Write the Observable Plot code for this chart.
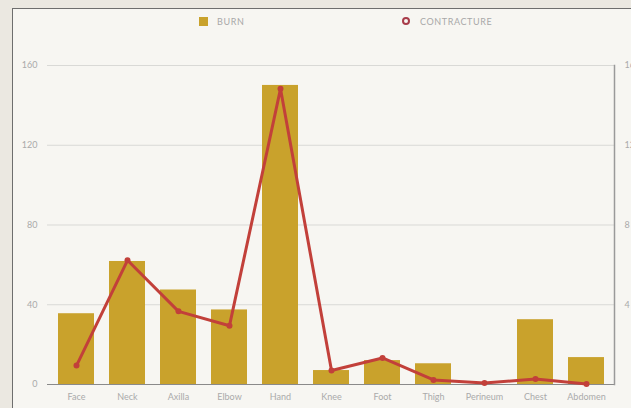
<!DOCTYPE html>
<html>
<head>
<meta charset="utf-8">
<script src="https://cdn.jsdelivr.net/npm/d3@7"></script>
<script src="https://cdn.jsdelivr.net/npm/@observablehq/plot@0.6"></script>
<style>
  html, body { margin: 0; padding: 0; }
  body { width: 631px; height: 408px; overflow: hidden; background: #ebe8e1; position: relative; font-family: Lato, "Open Sans", sans-serif; }
  #frame { position: absolute; left: 12px; top: 8px; width: 640px; height: 420px; background: #f7f6f2; border-left: 1px solid #6e6e6e; border-top: 1px solid #6e6e6e; overflow: hidden; }
  #legend { position: relative; height: 29px; }
  .sw { position: absolute; }
  .lt { position: absolute; font-size: 9px; letter-spacing: 0.6px; color: #a8a8a8; line-height: 10px; }
  #chart svg { display: block; }
</style>
</head>
<body>
<div id="frame">
  <div id="legend">
    <div class="sw" style="left:186px;top:8px;width:9px;height:9px;background:#c9a22c;"></div>
    <div class="lt" style="left:204px;top:8px;">BURN</div>
    <div class="sw" style="left:389px;top:8px;width:4px;height:4px;border:2.5px solid #a83c4a;border-radius:50%;"></div>
    <div class="lt" style="left:407px;top:8px;">CONTRACTURE</div>
  </div>
  <div id="chart"></div>
</div>
<script>
const categories = ["Face", "Neck", "Axilla", "Elbow", "Hand", "Knee", "Foot", "Thigh", "Perineum", "Chest", "Abdomen"];
const burn = [35.5, 61.7, 47.4, 37.4, 150, 7, 12, 10.4, 0, 32.5, 13.5];
const contracture = [0.95, 6.23, 3.67, 2.95, 14.83, 0.7, 1.33, 0.23, 0.07, 0.28, 0.03];
const leftTicks = [0, 40, 80, 120, 160];
const rightTicks = [4, 8, 12, 16];
const rightFactor = 10;

const data = categories.map((c, i) => ({cat: c, burn: burn[i], con: contracture[i] * rightFactor}));

const chart = Plot.plot({
  width: 619,
  height: 370,
  marginLeft: 34,
  marginRight: 18,
  marginTop: 27,
  marginBottom: 24,
  style: {background: "transparent", fontFamily: "Lato, 'Open Sans', sans-serif", fontSize: "9px", color: "#aaa", overflow: "visible"},
  x: {domain: categories, paddingInner: 0.3, paddingOuter: 0.15, label: null},
  y: {domain: [0, 160], label: null},
  marks: [
    Plot.gridY(leftTicks.filter(d => d > 0), {stroke: "#d9d9d6", strokeOpacity: 1, strokeWidth: 1}),
    Plot.axisY(leftTicks, {anchor: "left", tickSize: 0, tickPadding: 10, label: null, fill: "#aaa"}),
    Plot.axisY(rightTicks.map(d => d * rightFactor), {anchor: "right", tickSize: 0, tickPadding: 10, label: null, fill: "#aaa", tickFormat: d => d / rightFactor}),
    Plot.axisX({tickSize: 0, tickPadding: 9, label: null, fill: "#aaa"}),
    Plot.barY(data, {x: "cat", y: "burn", fill: "#c9a22c"}),
    Plot.ruleY([0], {stroke: "#8a8a8a", strokeWidth: 1}),
    Plot.frame({anchor: "right", stroke: "#9a9a9a", strokeWidth: 1.5}),
    Plot.line(data, {x: "cat", y: "con", stroke: "#c2403a", strokeWidth: 3, strokeLinejoin: "round"}),
    Plot.dot(data, {x: "cat", y: "con", fill: "#c2403a", r: 3})
  ]
});
document.getElementById("chart").appendChild(chart);
</script>
</body>
</html>
